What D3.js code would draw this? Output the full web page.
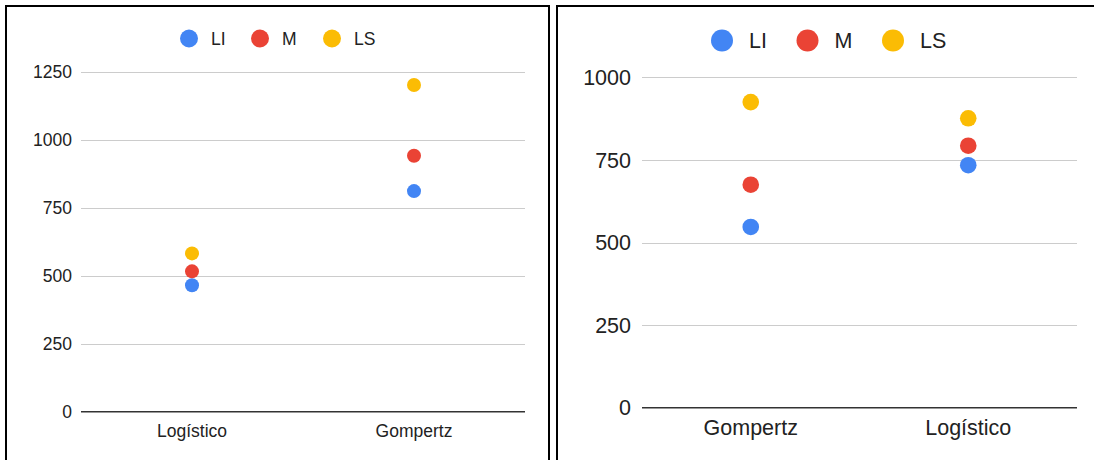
<!DOCTYPE html>
<html>
<head>
<meta charset="utf-8">
<script src="https://cdn.jsdelivr.net/npm/d3@7"></script>
<style>
  body { margin: 0; background: #fff; }
  svg { display: block; font-family: Arial, "Liberation Sans", sans-serif; }
</style>
</head>
<body>
<svg id="chart" width="1094" height="460"></svg>
<script>
// series names and colours
var seriesNames = ["LI", "M", "LS"];
var seriesColors = ["#4285F4", "#EA4335", "#FBBC04"];

// left chart
var leftCats = ["Logístico", "Gompertz"];
var leftLI = [465, 811];
var leftM = [516, 941];
var leftLS = [582, 1201];
var leftTicks = [0, 250, 500, 750, 1000, 1250];

// right chart
var rightCats = ["Gompertz", "Logístico"];
var rightLI = [547, 734];
var rightM = [675, 793];
var rightLS = [925, 876];
var rightTicks = [0, 250, 500, 750, 1000];

var svg = d3.select("#chart");

// panel frames
svg.append("rect").attr("x", 6).attr("y", 6).attr("width", 543).attr("height", 470)
    .attr("fill", "none").attr("stroke", "#000").attr("stroke-width", 2);
svg.append("rect").attr("x", 557).attr("y", 6).attr("width", 600).attr("height", 470)
    .attr("fill", "none").attr("stroke", "#000").attr("stroke-width", 2);

function makePanel(opt) {
    var g = svg.append("g");
    var x = d3.scaleBand().domain(opt.cats).range([opt.x0, opt.x1]);
    var y = d3.scaleLinear().domain([0, d3.max(opt.ticks)]).range([opt.y0, opt.y1]);

    // gridlines
    g.selectAll(".grid").data(opt.ticks.filter(function(d) { return d > 0; }))
      .enter().append("line")
        .attr("x1", opt.x0).attr("x2", opt.x1)
        .attr("y1", function(d) { return Math.round(y(d)) + 0.5; })
        .attr("y2", function(d) { return Math.round(y(d)) + 0.5; })
        .attr("stroke", "#cccccc").attr("stroke-width", 1);

    // tick labels
    g.selectAll(".ytick").data(opt.ticks)
      .enter().append("text")
        .attr("x", opt.labelX)
        .attr("y", function(d) { return y(d); })
        .attr("dy", "0.36em")
        .attr("text-anchor", "end")
        .attr("font-size", opt.fs)
        .attr("fill", "#222")
        .text(function(d) { return d; });

    // baseline
    g.append("line")
        .attr("x1", opt.x0).attr("x2", opt.x1)
        .attr("y1", y(0)).attr("y2", y(0))
        .attr("stroke", "#333").attr("stroke-width", 1.5);

    // category labels
    g.selectAll(".xcat").data(opt.cats)
      .enter().append("text")
        .attr("x", function(d) { return x(d) + x.bandwidth() / 2; })
        .attr("y", opt.catY)
        .attr("text-anchor", "middle")
        .attr("font-size", opt.fs)
        .attr("fill", "#222")
        .text(function(d) { return d; });

    // points
    opt.series.forEach(function(vals, si) {
        g.selectAll(".pt" + si).data(vals)
          .enter().append("circle")
            .attr("cx", function(d, i) { return x(opt.cats[i]) + x.bandwidth() / 2; })
            .attr("cy", function(d) { return y(d); })
            .attr("r", opt.r)
            .attr("fill", seriesColors[si]);
    });

    // legend
    seriesNames.forEach(function(name, si) {
        g.append("circle")
            .attr("cx", opt.legX[si]).attr("cy", opt.legY)
            .attr("r", opt.legR).attr("fill", seriesColors[si]);
        g.append("text")
            .attr("x", opt.legX[si] + opt.legGap).attr("y", opt.legY)
            .attr("dy", "0.36em")
            .attr("font-size", opt.fs)
            .attr("fill", "#222")
            .text(name);
    });
}

makePanel({
    cats: leftCats, series: [leftLI, leftM, leftLS], ticks: leftTicks,
    x0: 81, x1: 525, y0: 411.7, y1: 71.7,
    labelX: 72, catY: 437, fs: 17.5, r: 7,
    legX: [189, 260, 332], legY: 38.5, legR: 9, legGap: 22
});

makePanel({
    cats: rightCats, series: [rightLI, rightM, rightLS], ticks: rightTicks,
    x0: 642, x1: 1077, y0: 407.7, y1: 77.3,
    labelX: 631, catY: 435, fs: 21.5, r: 8.3,
    legX: [722, 807.5, 893], legY: 40.5, legR: 11, legGap: 27
});
</script>
</body>
</html>
